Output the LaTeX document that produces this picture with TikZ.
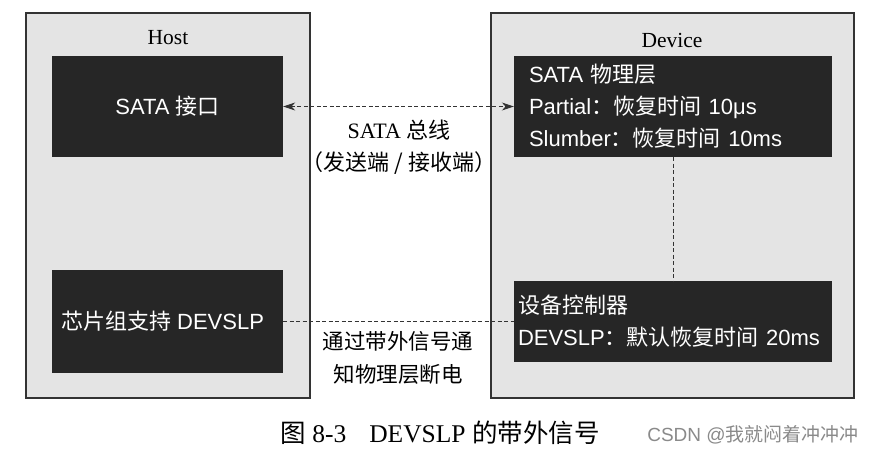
\documentclass[tikz,border=0pt]{standalone}
\usepackage{fontspec}
\setmainfont{Liberation Serif}
\setsansfont{Liberation Sans}
\newfontfamily\cjksans{Noto Sans CJK SC}
\usetikzlibrary{arrows.meta}
\definecolor{panelgray}{HTML}{E4E4E4}
\definecolor{boxdark}{HTML}{262626}
\definecolor{linegray}{HTML}{333333}
\definecolor{markgray}{HTML}{8A8A8A}
\tikzset{
  panel/.style={draw=linegray, line width=1.1pt, fill=panelgray, inner sep=0pt},
  darkbox/.style={fill=boxdark, draw=none, inner sep=0pt, text=white,
    font=\sffamily\fontsize{22}{32}\selectfont},
  dashline/.style={draw=linegray, line width=1pt, dash pattern=on 4pt off 2.5pt},
  serlabel/.style={font=\rmfamily\fontsize{22}{32}\selectfont, align=center, inner sep=0pt},
  busarrow/.style={{Stealth[length=12pt, width=8pt]}-{Stealth[length=12pt, width=8pt]}}
}
\begin{document}
\begin{tikzpicture}[x=1pt,y=-1pt]
\fill[white] (0,0) rectangle (875,455);
\useasboundingbox (0,0) rectangle (875,455);

% panels
\node[panel, minimum width=284pt, minimum height=385pt] (host) at (168,205.5) {};
\node[panel, minimum width=363pt, minimum height=385pt] (device) at (672.5,205.5) {};
\node[font=\rmfamily\fontsize{21.5}{26}\selectfont, inner sep=0pt] (hostlbl) at (168,38) {Host};
\node[font=\rmfamily\fontsize{21.5}{26}\selectfont, inner sep=0pt] (devlbl) at (672,40) {Device};

% dark boxes
\node[darkbox, minimum width=231pt, minimum height=101pt] (sata) at (167.5,106.5)
  {SATA {\cjksans 接口}};
\node[darkbox, minimum width=231pt, minimum height=103pt] (chip) at (167.5,321.5)
  {{\cjksans 芯片组支持} DEVSLP\hspace*{10pt}};
\node[darkbox, minimum width=318pt, minimum height=101pt, text width=288pt,
      inner xsep=15pt, align=left] (phy) at (673,106.5)
  {SATA {\cjksans 物理层}\\Partial{\cjksans ：恢复时间} 10μs\\Slumber{\cjksans ：恢复时间} 10ms};
\node[darkbox, minimum width=318pt, minimum height=81pt, text width=310pt,
      inner xsep=4pt, align=left] (ctrl) at (673,321.5)
  {{\cjksans 设备控制器}\\DEVSLP{\cjksans ：默认恢复时间} 20ms};

% connectors
\draw[dashline, busarrow] (sata.east) -- (phy.west);
\draw[dashline] (phy.south) -- (ctrl.north);
\draw[dashline] (chip.east) -- (ctrl.west);

% labels
\node[serlabel] (buslbl) at (399,147) {SATA {\cjksans 总线}\\{\cjksans （发送端 / 接收端）}};
\node[serlabel, font=\cjksans\fontsize{21.5}{33}\selectfont] (oob) at (398,358) {通过带外信号通\\知物理层断电};

% caption
\node[font=\fontsize{25.5}{30}\selectfont, inner sep=0pt] (cap) at (440,433)
  {{\cjksans 图} 8-3\hspace{0.9em}DEVSLP {\cjksans 的带外信号}};
\node[font=\cjksans\fontsize{19}{22}\selectfont, text=markgray, inner sep=0pt] (wm) at (753,435)
  {{\sffamily CSDN @}我就闷着冲冲冲};
\end{tikzpicture}
\end{document}
